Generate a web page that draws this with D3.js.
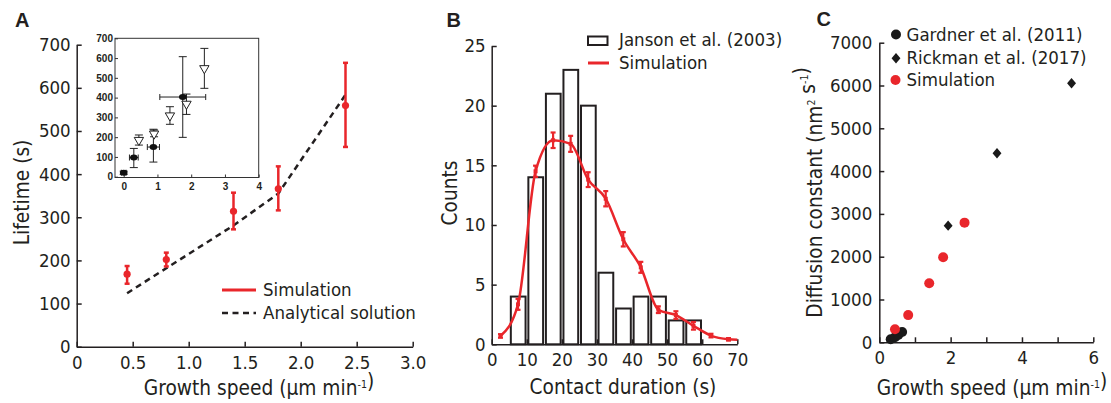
<!DOCTYPE html>
<html>
<head>
<meta charset="utf-8">
<script src="https://cdn.jsdelivr.net/npm/d3@7"></script>
<style>
  body { margin: 0; background: #fff; }
  text { font-family: 'DejaVu Sans Condensed', 'DejaVu Sans', sans-serif; fill: #231f20; }
  .panel { font-family: 'Liberation Sans', Arial, sans-serif; font-weight: bold; }
  .inset text { font-family: 'Liberation Sans', Arial, sans-serif; font-weight: bold; }
</style>
</head>
<body>
<div id="chart"></div>
<script>
// ---- panel A data ----
var simSpeed = [0.45, 0.8, 1.4, 1.8, 2.4];
var simLifetime = [168, 202, 314, 366, 559];
var simLifeLo = [146, 186, 272, 316, 463];
var simLifeHi = [187, 218, 357, 418, 658];
var anaSpeed = [0.45, 0.8, 1.4, 1.8, 2.4];
var anaLifetime = [124, 182, 281, 355, 584];
var aXTicks = [0, 0.5, 1.0, 1.5, 2.0, 2.5, 3.0];
var aYTicks = [0, 100, 200, 300, 400, 500, 600, 700];

// inset (experimental data)
var insetCircX = [0, 0.3, 0.88, 1.75];
var insetCircY = [20, 97, 150, 403];
var insetCircXErr = [0.07, 0.13, 0.18, 0.68];
var insetCircYLo = [12, 46, 74, 199];
var insetCircYHi = [28, 143, 240, 607];
var insetTriX = [0.45, 0.9, 1.37, 1.86, 2.39];
var insetTriY = [185, 217, 309, 368, 548];
var insetTriLo = [160, 202, 265, 315, 447];
var insetTriHi = [211, 236, 354, 418, 649];
var insetXTicks = [0, 1, 2, 3, 4];
var insetYTicks = [0, 100, 200, 300, 400, 500, 600, 700];

// ---- panel B data ----
var binStart = [5, 10, 15, 20, 25, 30, 35, 40, 45, 50, 55];
var binCounts = [4, 14, 21, 23, 20, 6, 3, 4, 4, 2, 2];
var simDur = [2.5, 7.5, 12.5, 17.5, 22.5, 27.5, 32.5, 37.5, 42.5, 47.5, 52.5, 57.5, 62.5, 67.5, 70];
var simCounts = [0.7, 3.35, 14.5, 17.1, 16.8, 13.8, 12.2, 8.8, 6.45, 2.9, 2.45, 1.55, 0.73, 0.42, 0.38];
var simCountErr = [0.15, 0.46, 0.47, 0.65, 0.67, 0.62, 0.64, 0.6, 0.46, 0.28, 0.32, 0.32, 0.15, 0.1, null];
var bXTicks = [0, 10, 20, 30, 40, 50, 60, 70];
var bYTicks = [0, 5, 10, 15, 20, 25];

// ---- panel C data ----
var gardnerSpeed = [0.32, 0.44, 0.53, 0.64];
var gardnerD = [70, 117, 171, 241];
var rickmanSpeed = [1.93, 3.3, 5.39];
var rickmanD = [2726, 4416, 6051];
var simCSpeed = [0.44, 0.81, 1.4, 1.79, 2.39];
var simCD = [304, 635, 1378, 1986, 2796];
var cXTicks = [0, 1, 2, 3, 4, 5, 6];
var cYTicks = [0, 1000, 2000, 3000, 4000, 5000, 6000, 7000];

var RED = "#e9262b", INK = "#231f20";
var W = 1111, H = 403;
var TICK_FS = 18.5, LAB_FS = 20.7;

var svg = d3.select("#chart").append("svg")
  .attr("width", W).attr("height", H);

// axis styling helper
function styleAxis(g, fs){
  g.select(".domain").attr("stroke", INK).attr("stroke-width", 1.5);
  g.selectAll(".tick line").attr("stroke", INK).attr("stroke-width", 1.5);
  g.selectAll(".tick text").style("font-size", fs + "px").attr("fill", INK);
}

function errBar(g, x, y0, y1, cap, color, sw){
  g.append("line").attr("x1", x).attr("x2", x).attr("y1", y0).attr("y2", y1)
    .attr("stroke", color).attr("stroke-width", sw);
  [y0, y1].forEach(function(yy){
    g.append("line").attr("x1", x - cap).attr("x2", x + cap).attr("y1", yy).attr("y2", yy)
      .attr("stroke", color).attr("stroke-width", sw);
  });
}

// axis title with superscripts
function superLabel(g, x, y, rotate, parts){
  var t = g.append("text").attr("text-anchor", "middle").style("font-size", LAB_FS + "px")
    .attr("transform", "translate(" + x + "," + y + ")" + (rotate ? " rotate(-90)" : ""));
  parts.forEach(function(p){
    if(p.sup){
      t.append("tspan").attr("dy", -7).style("font-size", "10.5px").text(p.sup);
      t.append("tspan").attr("dy", 7).text("");
    } else {
      t.append("tspan").text(p.t);
    }
  });
  return t;
}

/** ================= Panel A ================= **/
var ax = d3.scaleLinear().domain([0, 3]).range([76.7, 412.7]);
var ay = d3.scaleLinear().domain([0, 700]).range([346.7, 44.7]);
var pA = svg.append("g");

pA.append("g").attr("transform", "translate(0," + ay(0) + ")")
  .call(d3.axisBottom(ax).tickValues(aXTicks).tickSizeInner(-5).tickSizeOuter(0).tickPadding(9)
    .tickFormat(function(d){ return d === 0 ? "0" : d3.format(".1f")(d); }))
  .call(styleAxis, TICK_FS);
pA.append("g").attr("transform", "translate(" + ax(0) + ",0)")
  .call(d3.axisLeft(ay).tickValues(aYTicks).tickSizeInner(-5).tickSizeOuter(0).tickPadding(6))
  .call(styleAxis, TICK_FS);

var anaLine = d3.line().x(function(d){ return ax(d[0]); }).y(function(d){ return ay(d[1]); });
pA.append("path")
  .datum(anaSpeed.map(function(s, i){ return [s, anaLifetime[i]]; }))
  .attr("d", anaLine).attr("fill", "none").attr("stroke", INK)
  .attr("stroke-width", 2.5).attr("stroke-dasharray", "6,4.5");

simSpeed.forEach(function(s, i){
  errBar(pA, ax(s), ay(simLifeLo[i]), ay(simLifeHi[i]), 2.5, RED, 2.5);
  pA.append("circle").attr("cx", ax(s)).attr("cy", ay(simLifetime[i])).attr("r", 3.6).attr("fill", RED);
});

// legend A
pA.append("line").attr("x1", 222).attr("x2", 256).attr("y1", 290).attr("y2", 290)
  .attr("stroke", RED).attr("stroke-width", 3);
pA.append("text").attr("x", 263).attr("y", 289).attr("dy", "0.36em").style("font-size", TICK_FS + "px").text("Simulation");
pA.append("line").attr("x1", 222).attr("x2", 256).attr("y1", 313).attr("y2", 313)
  .attr("stroke", INK).attr("stroke-width", 2.5).attr("stroke-dasharray", "6,4.5");
pA.append("text").attr("x", 263).attr("y", 312.5).attr("dy", "0.36em").style("font-size", TICK_FS + "px").text("Analytical solution");

superLabel(pA, 259, 394.5, false, [{t: "Growth speed (μm min"}, {sup: "-1"}, {t: ")"}]);
pA.append("text").attr("transform", "translate(28.5,192.5) rotate(-90)").attr("text-anchor", "middle")
  .style("font-size", LAB_FS + "px").text("Lifetime (s)");
pA.append("text").attr("class", "panel").attr("x", 15).attr("y", 26.5).style("font-size", "20px").text("A");

// inset
var ix = d3.scaleLinear().domain([0, 4]).range([123.7, 258.7]);
var iy = d3.scaleLinear().domain([0, 700]).range([176.7, 38.3]);
var inset = pA.append("g").attr("class", "inset");
inset.append("rect").attr("x", 115).attr("y", 38.3).attr("width", 258.7 - 115).attr("height", 177.5 - 38.3)
  .attr("fill", "#fff").attr("stroke", "#333").attr("stroke-width", 1);
inset.append("g").attr("transform", "translate(0,177.5)")
  .call(d3.axisBottom(ix).tickValues(insetXTicks).tickSizeInner(-3).tickSizeOuter(0).tickPadding(5).tickFormat(d3.format("d")))
  .call(function(g){
    g.select(".domain").remove();
    g.selectAll(".tick line").attr("stroke", "#333");
    g.selectAll(".tick text").style("font-size", "10px").attr("fill", INK);
  });
inset.append("g").attr("transform", "translate(115,0)")
  .call(d3.axisLeft(iy).tickValues(insetYTicks).tickSizeInner(-3).tickSizeOuter(0).tickPadding(2).tickFormat(d3.format("d")))
  .call(function(g){
    g.select(".domain").remove();
    g.selectAll(".tick line").attr("stroke", "#333");
    g.selectAll(".tick text").style("font-size", "10px").attr("fill", INK);
  });

insetTriX.forEach(function(s, i){
  errBar(inset, ix(s), iy(insetTriLo[i]), iy(insetTriHi[i]), 4, "#222", 1);
});
insetCircX.forEach(function(s, i){
  errBar(inset, ix(s), iy(insetCircYLo[i]), iy(insetCircYHi[i]), 4, "#222", 1);
  var xl = ix(s - insetCircXErr[i]), xr = ix(s + insetCircXErr[i]), yy = iy(insetCircY[i]);
  inset.append("line").attr("x1", xl).attr("x2", xr).attr("y1", yy).attr("y2", yy).attr("stroke", "#222").attr("stroke-width", 1);
  [xl, xr].forEach(function(xx){
    inset.append("line").attr("x1", xx).attr("x2", xx).attr("y1", yy - 3).attr("y2", yy + 3).attr("stroke", "#222").attr("stroke-width", 1);
  });
  inset.append("ellipse").attr("cx", ix(s)).attr("cy", yy).attr("rx", 3.8).attr("ry", 3).attr("fill", "#111");
});
var tri = d3.symbol().type(d3.symbolTriangle).size(38);
insetTriX.forEach(function(s, i){
  inset.append("path").attr("d", tri)
    .attr("transform", "translate(" + ix(s) + "," + iy(insetTriY[i]) + ") rotate(180)")
    .attr("fill", "#fff").attr("stroke", "#222").attr("stroke-width", 1);
});

/** ================= Panel B ================= **/
var bx = d3.scaleLinear().domain([0, 70]).range([491.7, 737.3]);
var by = d3.scaleLinear().domain([0, 25]).range([344.3, 46]);
var pB = svg.append("g");

pB.selectAll(".bar").data(binStart).enter().append("rect")
  .attr("class", "bar")
  .attr("x", function(d){ return bx(d + 0.45); })
  .attr("y", function(d, i){ return by(binCounts[i]); })
  .attr("width", bx(4.2) - bx(0))
  .attr("height", function(d, i){ return by(0) - by(binCounts[i]); })
  .attr("fill", "#fff").attr("stroke", INK).attr("stroke-width", 2);

pB.append("g").attr("transform", "translate(0," + by(0) + ")")
  .call(d3.axisBottom(bx).tickValues(bXTicks).tickSizeInner(-5).tickSizeOuter(0).tickPadding(9))
  .call(styleAxis, TICK_FS);
pB.append("g").attr("transform", "translate(" + bx(0) + ",0)")
  .call(d3.axisLeft(by).tickValues(bYTicks).tickSizeInner(-5).tickSizeOuter(0).tickPadding(6))
  .call(styleAxis, TICK_FS);

var simB = simDur.map(function(d, i){ return [d, simCounts[i]]; });
pB.append("path").datum(simB)
  .attr("d", d3.line().curve(d3.curveMonotoneX).x(function(d){ return bx(d[0]); }).y(function(d){ return by(d[1]); }))
  .attr("fill", "none").attr("stroke", RED).attr("stroke-width", 2.5);
simDur.forEach(function(d, i){
  if(simCountErr[i] == null) return;
  errBar(pB, bx(d), by(simCounts[i] - simCountErr[i]), by(simCounts[i] + simCountErr[i]), 2.5, RED, 2.2);
  pB.append("rect").attr("x", bx(d) - 2).attr("y", by(simCounts[i]) - 2).attr("width", 4).attr("height", 4).attr("fill", RED);
});

// legend B
pB.append("rect").attr("x", 588).attr("y", 36.5).attr("width", 19.5).attr("height", 8.5)
  .attr("fill", "#fff").attr("stroke", INK).attr("stroke-width", 2);
pB.append("text").attr("x", 619).attr("y", 39.5).attr("dy", "0.36em").style("font-size", TICK_FS + "px").text("Janson et al. (2003)");
pB.append("line").attr("x1", 588).attr("x2", 609).attr("y1", 63).attr("y2", 63).attr("stroke", RED).attr("stroke-width", 3);
pB.append("text").attr("x", 619).attr("y", 62).attr("dy", "0.36em").style("font-size", TICK_FS + "px").text("Simulation");

pB.append("text").attr("x", 623).attr("y", 394).attr("text-anchor", "middle").style("font-size", LAB_FS + "px").text("Contact duration (s)");
pB.append("text").attr("transform", "translate(456.5,193) rotate(-90)").attr("text-anchor", "middle")
  .style("font-size", LAB_FS + "px").text("Counts");
pB.append("text").attr("class", "panel").attr("x", 446.5).attr("y", 26.5).style("font-size", "20px").text("B");

/** ================= Panel C ================= **/
var cx = d3.scaleLinear().domain([0, 6]).range([879.3, 1093.3]);
var cy = d3.scaleLinear().domain([0, 7000]).range([342.3, 42.7]);
var pC = svg.append("g");

pC.append("g").attr("transform", "translate(0," + cy(0) + ")")
  .call(d3.axisBottom(cx).tickValues(cXTicks).tickSizeInner(-5).tickSizeOuter(0).tickPadding(9)
    .tickFormat(function(d){ return d % 2 === 0 ? d : ""; }))
  .call(styleAxis, TICK_FS);
pC.append("g").attr("transform", "translate(" + cx(0) + ",0)")
  .call(d3.axisLeft(cy).tickValues(cYTicks).tickSizeInner(-5).tickSizeOuter(0).tickPadding(7).tickFormat(d3.format("d")))
  .call(styleAxis, TICK_FS);

// diamond marker, a bit wider than d3.symbolDiamond
var diamond = {
  draw: function(context, size){
    var h = Math.sqrt(size) / 2, w = h * 0.85;
    context.moveTo(0, -h); context.lineTo(w, 0); context.lineTo(0, h); context.lineTo(-w, 0); context.closePath();
  }
};
var diaPath = d3.symbol().type(diamond).size(110);

gardnerSpeed.forEach(function(s, i){
  pC.append("circle").attr("cx", cx(s)).attr("cy", cy(gardnerD[i])).attr("r", 5).attr("fill", "#1a1a1a");
});
simCSpeed.forEach(function(s, i){
  pC.append("circle").attr("cx", cx(s)).attr("cy", cy(simCD[i])).attr("r", 5).attr("fill", RED);
});
rickmanSpeed.forEach(function(s, i){
  pC.append("path").attr("d", diaPath).attr("transform", "translate(" + cx(s) + "," + cy(rickmanD[i]) + ")").attr("fill", "#1a1a1a");
});

// legend C
pC.append("circle").attr("cx", 896).attr("cy", 34.5).attr("r", 5).attr("fill", "#1a1a1a");
pC.append("text").attr("x", 906.5).attr("y", 34).attr("dy", "0.36em").style("font-size", TICK_FS + "px").text("Gardner et al. (2011)");
pC.append("path").attr("d", diaPath).attr("transform", "translate(896,58.3)").attr("fill", "#1a1a1a");
pC.append("text").attr("x", 906.5).attr("y", 57.5).attr("dy", "0.36em").style("font-size", TICK_FS + "px").text("Rickman et al. (2017)");
pC.append("circle").attr("cx", 895.5).attr("cy", 80).attr("r", 5).attr("fill", RED);
pC.append("text").attr("x", 906.5).attr("y", 79.5).attr("dy", "0.36em").style("font-size", TICK_FS + "px").text("Simulation");

superLabel(pC, 992, 394.5, false, [{t: "Growth speed (μm min"}, {sup: "-1"}, {t: ")"}]);
superLabel(pC, 822, 192.5, true, [{t: "Diffusion constant (nm"}, {sup: "2"}, {t: " s"}, {sup: "-1"}, {t: ")"}]);
pC.append("text").attr("class", "panel").attr("x", 816.5).attr("y", 25.5).style("font-size", "20px").text("C");
</script>
</body>
</html>
